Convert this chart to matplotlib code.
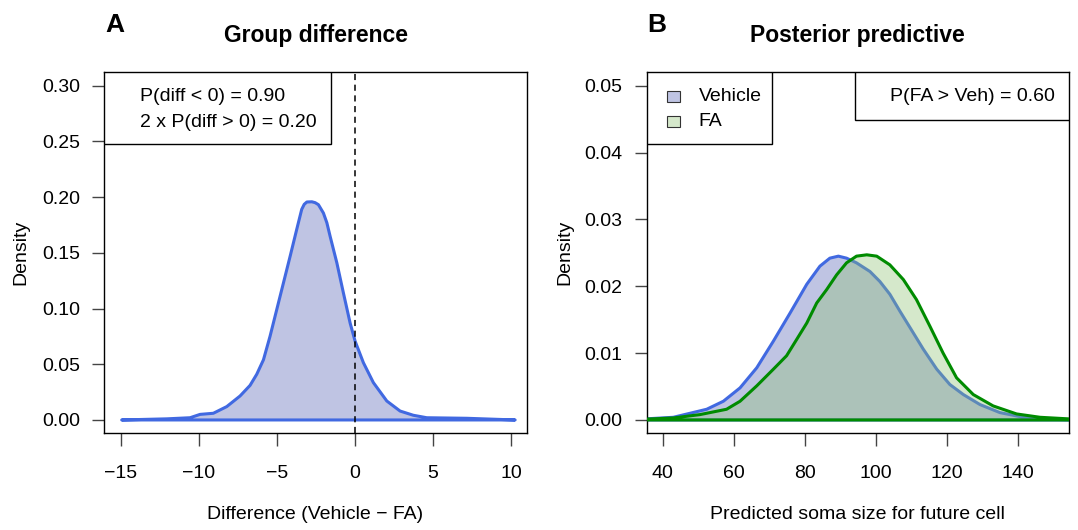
import matplotlib
matplotlib.use('Agg')
import matplotlib.pyplot as plt
from matplotlib.patches import Rectangle

plt.rcParams['font.family'] = ['Liberation Sans', 'DejaVu Sans']
plt.rcParams['font.size'] = 14

# Panel A: posterior density of the group difference (Vehicle - FA)
diff_x = [-14.94, -12.05, -10.56, -9.92, -9.07, -8.21, -7.36, -6.72, -6.29, -5.86,
          -5.44, -5.01, -4.58, -4.15, -3.73, -3.41, -3.25, -3.08, -2.76, -2.55,
          -2.34, -2.02, -1.80, -1.59, -1.16, -0.74, -0.31, 0.01, 0.54, 1.18,
          2.04, 2.89, 3.74, 4.60, 7.16, 10.26]
diff_dens = [0.0, 0.001, 0.002, 0.005, 0.006, 0.012, 0.0215, 0.031, 0.041, 0.054,
             0.075, 0.099, 0.123, 0.147, 0.171, 0.189, 0.1935, 0.1956, 0.1958, 0.1950,
             0.1932, 0.1857, 0.177, 0.1648, 0.141, 0.114, 0.087, 0.0707, 0.0514, 0.0335,
             0.017, 0.008, 0.0042, 0.002, 0.0015, 0.0]

# Panel B: posterior predictive soma size
veh_x = [30, 43.0, 52.4, 57.1, 61.8, 66.5, 71.2, 75.9, 80.6, 84.3,
         87.1, 89.5, 91.8, 94.6, 98.4, 101.2, 104.0, 106.8, 109.7, 113.4,
         117.2, 120.9, 124.7, 129.4, 135.0, 141.6, 148.0, 160]
veh_dens = [0.0, 0.0004, 0.0016, 0.0028, 0.0048, 0.0078, 0.0118, 0.016, 0.0203, 0.023,
            0.0242, 0.0245, 0.0242, 0.0235, 0.0222, 0.0207, 0.0188, 0.0163, 0.0138, 0.0106,
            0.0076, 0.0053, 0.0038, 0.0023, 0.0011, 0.0004, 0.0001, 0.0]
fa_x = [30, 43.0, 50.5, 58.0, 61.8, 66.5, 71.2, 74.9, 77.7, 80.6,
        83.4, 86.2, 89.0, 91.8, 94.6, 97.5, 100.3, 104.0, 107.8, 111.5,
        115.3, 119.0, 122.8, 127.5, 133.1, 139.7, 146.3, 160]
fa_dens = [0.0, 0.0003, 0.0008, 0.0016, 0.0028, 0.0051, 0.0076, 0.0096, 0.012, 0.0145,
           0.0175, 0.0195, 0.0217, 0.0235, 0.0245, 0.0247, 0.0245, 0.0232, 0.021, 0.018,
           0.014, 0.010, 0.0063, 0.0038, 0.0021, 0.0009, 0.0004, 0.0]

p_diff_lt0 = 0.90
p_two_sided = 0.20
p_fa_gt_veh = 0.60

a_xticks = [-15, -10, -5, 0, 5, 10]
a_yticks = [0.00, 0.05, 0.10, 0.15, 0.20, 0.25, 0.30]
b_xticks = [40, 60, 80, 100, 120, 140]
b_yticks = [0.00, 0.01, 0.02, 0.03, 0.04, 0.05]

veh_fill = '#BFC4E3'
veh_line = '#4169E1'
fa_fill = (0x8D / 255, 0xC1 / 255, 0x73 / 255, 0.37)
fa_line = '#008B00'


def style_axes(ax):
    for s in ax.spines.values():
        s.set_linewidth(1.0)
        s.set_color('black')
    ax.tick_params(axis='x', length=9.1, width=1.0, color='#444444', pad=13.5)
    ax.tick_params(axis='y', length=8.6, width=1.0, color='#444444', pad=8.9)


fig = plt.figure(figsize=(10.78, 5.30), dpi=100)
ax1 = fig.add_axes([0.0968, 0.1824, 0.3918, 0.6812])
ax2 = fig.add_axes([0.5999, 0.1824, 0.3917, 0.6812])

# ---- Panel A ----
ax1.fill(diff_x, diff_dens, facecolor=veh_fill, edgecolor=veh_line, lw=2.2,
         joinstyle='round', zorder=2)
ax1.axvline(0, color='black', lw=1.1, dashes=(4, 3), zorder=3)
ax1.set_xlim(-16.05, 11.0)
ax1.set_ylim(-0.012, 0.312)
ax1.set_xticks(a_xticks)
ax1.set_xticklabels([f'{t}'.replace('-', '\u2212') for t in a_xticks])
ax1.set_yticks(a_yticks)
ax1.set_yticklabels([f'{t:.2f}' for t in a_yticks])
style_axes(ax1)

ax1.add_patch(Rectangle((0, 0.801), 0.537, 0.199, transform=ax1.transAxes,
                        facecolor='white', edgecolor='black', lw=1.0, zorder=4))
ax1.text(0.0855, 0.9316, f'P(diff < 0) = {p_diff_lt0:.2f}', transform=ax1.transAxes,
         va='center', ha='left', zorder=5)
ax1.text(0.0855, 0.8596, f'2 x P(diff > 0) = {p_two_sided:.2f}', transform=ax1.transAxes,
         va='center', ha='left', zorder=5)

ax1.text(0.5, -0.238, 'Difference (Vehicle \u2212 FA)', transform=ax1.transAxes,
         ha='center', va='baseline')
ax1.text(-0.197, 0.5, 'Density', transform=ax1.transAxes, rotation=90,
         ha='center', va='center')

# ---- Panel B ----
ax2.fill(veh_x, veh_dens, facecolor=veh_fill, edgecolor=veh_line, lw=2.2,
         joinstyle='round', zorder=2)
ax2.fill(fa_x, fa_dens, facecolor=fa_fill, edgecolor='none', zorder=3)
ax2.plot(fa_x + [fa_x[0]], fa_dens + [fa_dens[0]], color=fa_line, lw=2.2,
         solid_joinstyle='round', zorder=3)
ax2.set_xlim(35.5, 154.45)
ax2.set_ylim(-0.002, 0.052)
ax2.set_xticks(b_xticks)
ax2.set_yticks(b_yticks)
ax2.set_yticklabels([f'{t:.2f}' for t in b_yticks])
style_axes(ax2)

# legend box
ax2.add_patch(Rectangle((0, 0.801), 0.296, 0.199, transform=ax2.transAxes,
                        facecolor='white', edgecolor='black', lw=1.0, zorder=4))
for row_y, fc, lab in [(0.9327, veh_fill, 'Vehicle'), (0.8626, '#D5E8CB', 'FA')]:
    ax2.add_patch(Rectangle((0.0635 - 0.0154, row_y - 0.0152), 0.0308, 0.0305,
                            transform=ax2.transAxes, facecolor=fc,
                            edgecolor='#333333', lw=0.8, zorder=5))
    ax2.text(0.123, row_y, lab, transform=ax2.transAxes, va='center', ha='left', zorder=5)

ax2.add_patch(Rectangle((0.494, 0.868), 0.506, 0.132, transform=ax2.transAxes,
                        facecolor='white', edgecolor='black', lw=1.0, zorder=4))
ax2.text(0.967, 0.9316, f'P(FA > Veh) = {p_fa_gt_veh:.2f}', transform=ax2.transAxes,
         va='center', ha='right', zorder=5)

ax2.text(0.5, -0.238, 'Predicted soma size for future cell', transform=ax2.transAxes,
         ha='center', va='baseline')
ax2.text(-0.1935, 0.5, 'Density', transform=ax2.transAxes, rotation=90,
         ha='center', va='center')

# titles and panel letters
fig.text(0.2927, 0.920, 'Group difference', ha='center', va='baseline',
         fontsize=16.5, fontweight='bold')
fig.text(0.7957, 0.920, 'Posterior predictive', ha='center', va='baseline',
         fontsize=16.5, fontweight='bold')
fig.text(0.0974, 0.940, 'A', ha='left', va='baseline', fontsize=19, fontweight='bold')
fig.text(0.6006, 0.940, 'B', ha='left', va='baseline', fontsize=19, fontweight='bold')

fig.savefig('out.png', dpi=100)
